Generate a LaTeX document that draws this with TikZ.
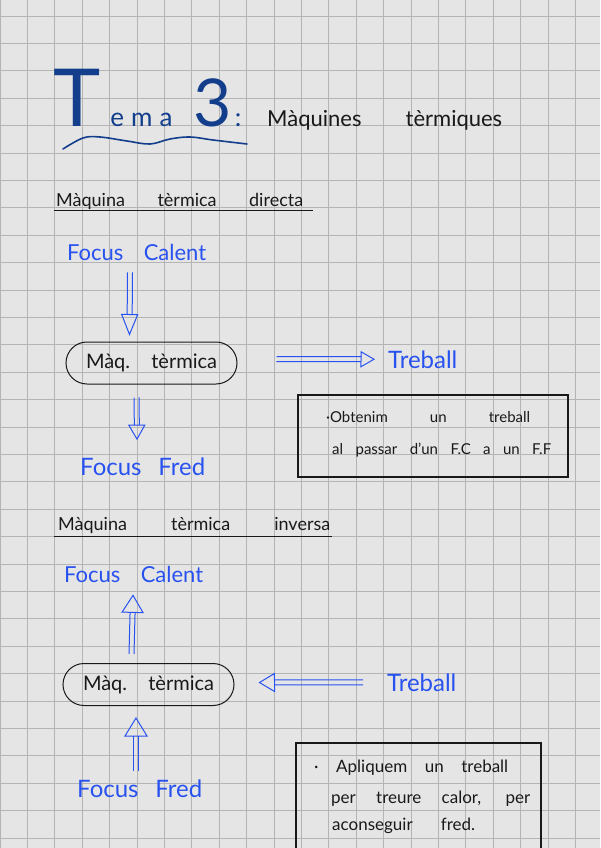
\documentclass[tikz,border=0pt]{standalone}
\usepackage{fontspec}
\setmainfont{Lato}
\usetikzlibrary{calc}

\definecolor{paper}{RGB}{229,229,229}
\definecolor{gridgray}{RGB}{180,180,180}
\definecolor{inkblue}{RGB}{40,82,240}
\definecolor{inknavy}{RGB}{18,62,140}
\definecolor{inkblack}{RGB}{25,25,25}

\tikzset{
  gridline/.style={gridgray, line width=0.8pt},
  txt/.style={anchor=base west, inner sep=0pt},
  headtxt/.style={txt, inkblack, font=\fontsize{18}{18}\selectfont},
  bluetxt/.style={txt, inkblue, font=\fontsize{22}{22}\selectfont},
  bigblue/.style={txt, inkblue, font=\fontsize{24}{24}\selectfont},
  notetxt/.style={txt, inkblack, font=\fontsize{17}{17}\selectfont},
  enginebox/.style={draw=inkblack, line width=1pt, rounded corners=21pt,
    minimum width=171pt, minimum height=42pt, inner sep=0pt, text=inkblack,
    font=\fontsize{20}{20}\selectfont},
  notebox/.style={draw=inkblack, line width=1.2pt},
  headrule/.style={inkblack, line width=1pt},
  flowline/.style={inkblue, line width=1pt, line join=miter},
}

% double blue arrow: head length, head half-width, from, to
\newcommand\heatarrow[4]{%
  \coordinate (ha-s) at (#3);
  \coordinate (ha-t) at (#4);
  \coordinate (ha-b) at ($(ha-t)!#1pt!(ha-s)$);
  \draw[flowline] ($(ha-s)!2.5pt!90:(ha-t)$) -- ($(ha-b)!2.5pt!-90:(ha-s)$)
    ($(ha-s)!2.5pt!-90:(ha-t)$) -- ($(ha-b)!2.5pt!90:(ha-s)$);
  \draw[flowline] (ha-t) -- ($(ha-b)!#2pt!90:(ha-t)$) -- ($(ha-b)!#2pt!-90:(ha-t)$) -- cycle;
}

\begin{document}
\begin{tikzpicture}[x=1pt,y=-1pt]

% Paper and squared grid
\useasboundingbox (0,0) rectangle (600,848);
\fill[paper] (0,0) rectangle (600,848);
\begin{scope}
  \clip (0,0) rectangle (600,848);
  \foreach \gx in {0,...,21} \draw[gridline] (\gx*27.4,0) -- (\gx*27.4,848);
  \foreach \gy in {0,...,30} \draw[gridline] (0,16+\gy*27.4) -- (600,16+\gy*27.4);
\end{scope}

% Title
\node[txt, inknavy] (tema) at (53,126) {{\fontsize{80}{80}\selectfont T}\hspace{10pt}{\fontsize{26}{26}\selectfont e\kern7pt m\kern7pt a}\hspace{21pt}{\fontsize{66}{66}\selectfont 3}\hspace{3pt}{\fontsize{26}{26}\selectfont :}};
\node[txt, inkblack, font=\fontsize{22}{22}\selectfont] (subject) at (267,126) {\makebox[235pt][s]{Màquines tèrmiques}};
\draw[inknavy, line width=1.6pt, line cap=round] plot[smooth, tension=0.6] coordinates {(63,149) (83,138) (100,137) (127,141) (150,144) (170,139) (190,137) (213,140) (247,144)};

% Direct heat engine
\node[headtxt] (direct) at (56,206) {\makebox[247pt][s]{Màquina tèrmica directa}};
\draw[headrule] ($(direct.base west)+(-2,4)$) -- ++(259,0);

\node[bluetxt] (calent1) at (67,260) {\makebox[139pt][s]{Focus Calent}};
\node[enginebox] (engine1) at (151.5,363) {\makebox[131pt][s]{Màq. tèrmica}};
\node[bigblue] (treball1) at (388,368) {Treball};
\node[bigblue] (fred1) at (80,475) {\makebox[125pt][s]{Focus Fred}};

\heatarrow{20}{8}{$(calent1.south west)+(63,12)$}{$(engine1.north west)+(64,-7)$}
\heatarrow{13}{7.5}{$(engine1.east)+(39,-4)$}{$(treball1.west)+(-14,0)$}
\heatarrow{14}{8}{$(engine1.south west)+(71,13)$}{$(fred1.north west)+(57,-18)$}

\draw[notebox] (298,395) rectangle (568,477);
\node[notetxt, font=\fontsize{15}{15}\selectfont] (gain1) at (326,422) {\makebox[204pt][s]{·Obtenim un treball}};
\node[notetxt, font=\fontsize{15}{15}\selectfont] (gain2) at (332,454) {\makebox[219pt][s]{al passar d'un F.C a un F.F}};

% Inverse heat engine
\node[headtxt] (inverse) at (58,530) {\makebox[272pt][s]{Màquina tèrmica inversa}};
\draw[headrule] ($(inverse.base west)+(-4,6)$) -- ++(278,0);

\node[bluetxt] (calent2) at (64,582) {\makebox[139pt][s]{Focus Calent}};
\node[enginebox] (engine2) at (148.5,684.5) {\makebox[131pt][s]{Màq. tèrmica}};
\node[bigblue] (treball2) at (387,691) {Treball};
\node[bigblue] (fred2) at (77,797) {\makebox[125pt][s]{Focus Fred}};

\heatarrow{17}{10.5}{$(engine2.north west)+(69,-9)$}{$(calent2.south west)+(69,13)$}
\heatarrow{15}{9}{$(treball2.west)+(-24,0)$}{$(engine2.east)+(25,-2)$}
\heatarrow{18}{11}{$(fred2.north west)+(59,-8)$}{$(engine2.south west)+(73.5,12)$}

\draw[notebox] (296,850) -- (296,743) -- (541,743) -- (541,850);
\node[notetxt] (use1) at (314,772) {\makebox[194pt][s]{· Apliquem un treball}};
\node[notetxt] (use2) at (331,803) {\makebox[199pt][s]{per treure calor, per}};
\node[notetxt] (use3) at (332,830) {\makebox[143pt][s]{aconseguir fred.}};

\end{tikzpicture}
\end{document}
